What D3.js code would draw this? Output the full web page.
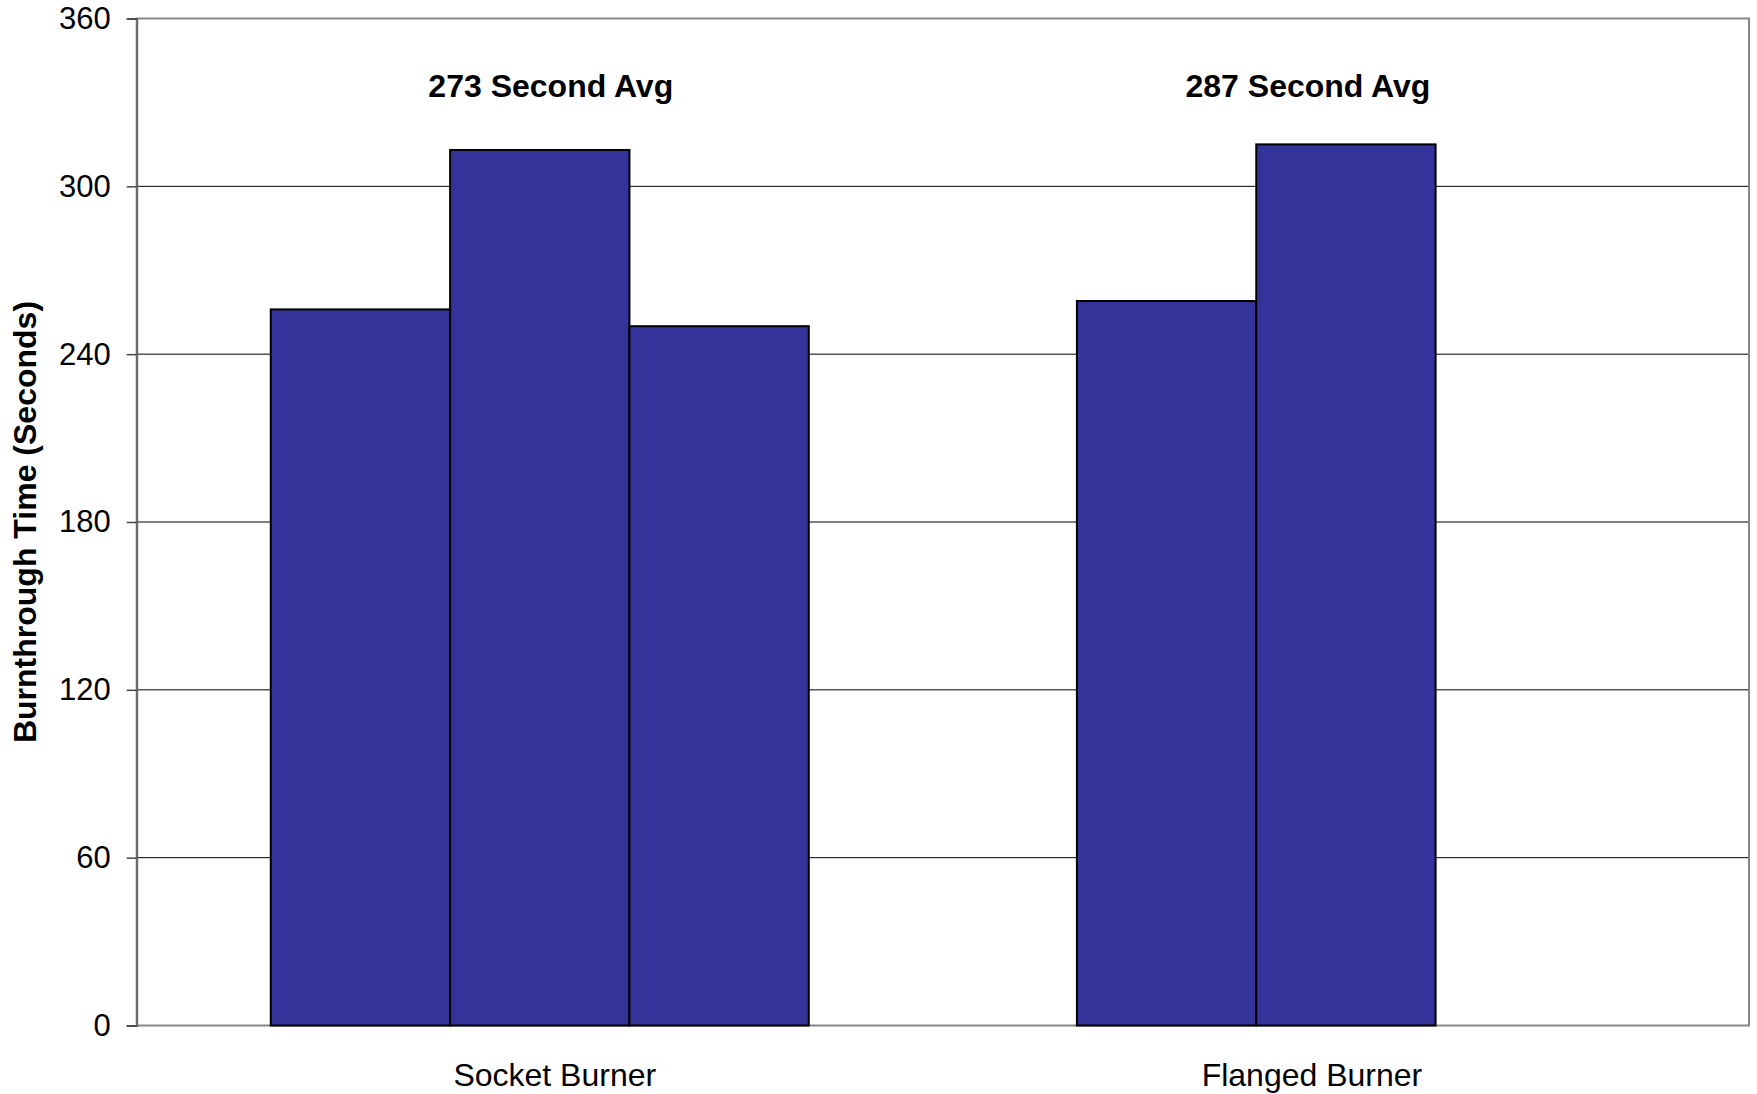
<!DOCTYPE html>
<html>
<head>
<meta charset="utf-8">
<script src="https://cdn.jsdelivr.net/npm/d3@7"></script>
<style>
  html, body { margin: 0; padding: 0; background: #ffffff; }
  svg { display: block; }
  text { font-family: "Liberation Sans", Arial, sans-serif; fill: #000; }
</style>
</head>
<body>
<script>
// ---- data ----
const categories = ["Socket Burner", "Flanged Burner"];
const seriesNames = ["Test 1", "Test 2", "Test 3"];
const test1 = [256, 259];
const test2 = [313, 315];
const test3 = [250, null];
const averageLabels = ["273 Second Avg", "287 Second Avg"];
const yTicks = [0, 60, 120, 180, 240, 300, 360];
const yTitle = "Burnthrough Time (Seconds)";

// ---- layout ----
const W = 1757, H = 1094;
const plot = { left: 136.7, right: 1749, top: 18.5, bottom: 1025.5 };
const labelShift = [15, -34];

const svg = d3.select("body").append("svg").attr("width", W).attr("height", H);

const y = d3.scaleLinear().domain([0, 360]).range([plot.bottom, plot.top]);
const x0 = d3.scaleBand().domain(categories).range([plot.left, plot.right]).padding(0);
const bw = x0.bandwidth();
const x1 = d3.scaleBand().domain(seriesNames).range([bw * 0.1663, bw * (1 - 0.1663)]).padding(0);

// gridlines
svg.append("g")
  .selectAll("line")
  .data(yTicks.filter(t => t > 0 && t < 360))
  .join("line")
  .attr("x1", plot.left).attr("x2", plot.right)
  .attr("y1", d => y(d)).attr("y2", d => y(d))
  .attr("stroke", "#000").attr("stroke-width", 1);

// frame (top, right, bottom gray)
svg.append("rect")
  .attr("x", plot.left).attr("y", plot.top)
  .attr("width", plot.right - plot.left).attr("height", plot.bottom - plot.top)
  .attr("fill", "none").attr("stroke", "#888").attr("stroke-width", 2);

// bars
const rows = categories.map((c, i) => ({ cat: c, vals: [test1[i], test2[i], test3[i]] }));
const groups = svg.append("g").selectAll("g")
  .data(rows).join("g")
  .attr("transform", d => `translate(${x0(d.cat)},0)`);
groups.selectAll("rect")
  .data(d => d.vals.map((v, j) => ({ s: seriesNames[j], v })).filter(e => e.v != null))
  .join("rect")
  .attr("x", d => x1(d.s))
  .attr("width", x1.bandwidth())
  .attr("y", d => y(d.v))
  .attr("height", d => y(0) - y(d.v))
  .attr("fill", "#333399")
  .attr("stroke", "#000")
  .attr("stroke-width", 2);

// y axis
const yAxis = d3.axisLeft(y).tickValues(yTicks).tickSize(10).tickPadding(16);
const ga = svg.append("g").attr("transform", `translate(${plot.left},0)`).call(yAxis);
ga.select(".domain").attr("stroke", "#666").attr("stroke-width", 2);
ga.selectAll(".tick line").attr("stroke", "#444").attr("stroke-width", 1.5);
ga.selectAll(".tick text")
  .style("font-family", '"Liberation Sans", Arial, sans-serif')
  .style("font-size", "31px").attr("fill", "#000");

// y title
svg.append("text")
  .attr("transform", `translate(36,${(plot.top + plot.bottom) / 2}) rotate(-90)`)
  .attr("text-anchor", "middle")
  .style("font-size", "32px").style("font-weight", "bold")
  .text(yTitle);

// category labels
svg.append("g").selectAll("text")
  .data(categories).join("text")
  .attr("x", (d, i) => x0(d) + bw / 2 + labelShift[i])
  .attr("y", 1086)
  .attr("text-anchor", "middle")
  .style("font-size", "32px")
  .text(d => d);

// average annotations
svg.append("g").selectAll("text")
  .data(averageLabels).join("text")
  .attr("x", (d, i) => x0(categories[i]) + bw / 2 + labelShift[i] - 4)
  .attr("y", 97)
  .attr("text-anchor", "middle")
  .style("font-size", "32px").style("font-weight", "bold")
  .text(d => d);
</script>
</body>
</html>
